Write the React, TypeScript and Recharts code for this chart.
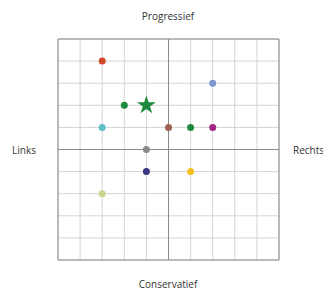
import {
  ScatterChart,
  Scatter,
  XAxis,
  YAxis,
  CartesianGrid,
  ReferenceLine,
  Cell,
  Symbols,
} from 'recharts';

const TICKS = [-5, -4, -3, -2, -1, 0, 1, 2, 3, 4, 5];

// partij-posities (links/rechts, conservatief/progressief)
const dotX = [-3, 2, -2, -3, 0, 1, 2, -1, -1, 1, -3];
const dotY = [4, 3, 2, 1, 1, 1, 1, 0, -1, -1, -2];
const dotColors = [
  '#d2472b',
  '#7a99cf',
  '#1d8a3e',
  '#5fc0c8',
  '#9c6450',
  '#1d8a3e',
  '#a1267f',
  '#888888',
  '#3b3680',
  '#f2c01d',
  '#c9d68f',
];

const starX = [-1];
const starY = [2];

const dots = dotX.map((x, i) => ({ x, y: dotY[i], color: dotColors[i] }));
const star = starX.map((x, i) => ({ x, y: starY[i] }));

const LABEL_STYLE: React.CSSProperties = {
  position: 'absolute',
  fontFamily: '"Open Sans", sans-serif',
  fontSize: 10,
  color: '#333',
  whiteSpace: 'nowrap',
};

function Dot(props: any) {
  const { cx, cy, payload } = props;
  return <circle cx={cx} cy={cy} r={3.5} fill={payload.color} />;
}

function Star(props: any) {
  const { cx, cy } = props;
  return <Symbols cx={cx} cy={cy} type="star" size={110} fill="#1b8a3c" />;
}

export default function App() {
  return (
    <div style={{ position: 'absolute', left: 0, top: 0, width: 323, height: 291, background: '#fff' }}>
      <ScatterChart width={323} height={291} margin={{ top: 39, right: 44, bottom: 31, left: 58 }}>
        <CartesianGrid stroke="#d4d4d4" strokeWidth={1} />
        <XAxis
          type="number"
          dataKey="x"
          domain={[-5, 5]}
          ticks={TICKS}
          interval={0}
          height={0}
          tick={{ fill: 'transparent', fontSize: 1 }}
          axisLine={false}
          tickLine={false}
        />
        <YAxis
          type="number"
          dataKey="y"
          domain={[-5, 5]}
          ticks={TICKS}
          interval={0}
          width={0}
          tick={{ fill: 'transparent', fontSize: 1 }}
          axisLine={false}
          tickLine={false}
        />
        <ReferenceLine x={0} stroke="#8a8a8a" />
        <ReferenceLine y={0} stroke="#8a8a8a" />
        <ReferenceLine x={-5} stroke="#8a8a8a" />
        <ReferenceLine x={5} stroke="#8a8a8a" />
        <ReferenceLine y={-5} stroke="#8a8a8a" />
        <ReferenceLine y={5} stroke="#8a8a8a" />
        <Scatter data={dots} shape={<Dot />} isAnimationActive={false}>
          {dots.map((d, i) => (
            <Cell key={i} fill={d.color} />
          ))}
        </Scatter>
        <Scatter data={star} shape={<Star />} isAnimationActive={false} />
      </ScatterChart>
      <div style={{ ...LABEL_STYLE, left: 0, width: 336, top: 9, textAlign: 'center' }}>Progressief</div>
      <div style={{ ...LABEL_STYLE, left: 0, width: 336, top: 277, textAlign: 'center' }}>Conservatief</div>
      <div style={{ ...LABEL_STYLE, left: 12, top: 143 }}>Links</div>
      <div style={{ ...LABEL_STYLE, left: 293, top: 143 }}>Rechts</div>
    </div>
  );
}
